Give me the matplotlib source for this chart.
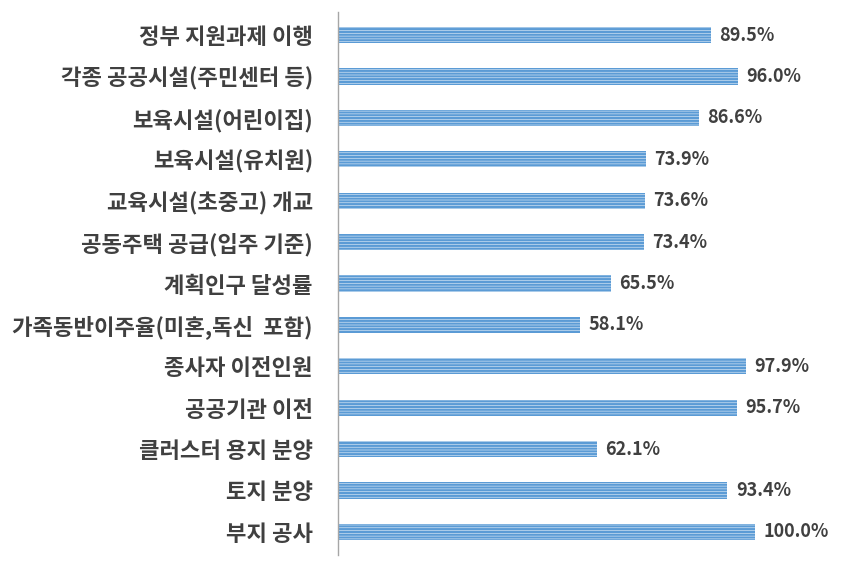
import matplotlib
matplotlib.use("Agg")
import matplotlib.pyplot as plt

plt.rcParams['font.family'] = ['Noto Sans CJK KR', 'DejaVu Sans']
plt.rcParams['hatch.linewidth'] = 1.6
plt.rcParams['hatch.color'] = '#5B9BD5'

categories = [
    "정부 지원과제 이행",
    "각종 공공시설(주민센터 등)",
    "보육시설(어린이집)",
    "보육시설(유치원)",
    "교육시설(초중고) 개교",
    "공동주택 공급(입주 기준)",
    "계획인구 달성률",
    "가족동반이주율(미혼,독신  포함)",
    "종사자 이전인원",
    "공공기관 이전",
    "클러스터 용지 분양",
    "토지 분양",
    "부지 공사",
]
values = [89.5, 96.0, 86.6, 73.9, 73.6, 73.4, 65.5, 58.1, 97.9, 95.7, 62.1, 93.4, 100.0]

fig = plt.figure(figsize=(8.54, 5.68), dpi=100)
ax = fig.add_axes([338/854, 1-555/568, 417/854, (555-12)/568])

pos = list(range(len(categories)))
bars = ax.barh(pos, values, height=0.39, color='#EAF2FA', edgecolor='#5B9BD5',
               hatch='------', linewidth=0)

for p, v in zip(pos, values):
    ax.text(v + 2.0, p, f"{v:.1f}%", va='center', ha='left', fontsize=13,
            fontweight='bold', color='#404040')

ax.set_xlim(0, 100)
ax.set_ylim(12.56, -0.56)
ax.set_yticks(pos)
ax.set_yticklabels(categories, fontsize=16, fontweight='bold', color='#404040')
ax.tick_params(axis='y', length=0, pad=18)
ax.set_xticks([])
for s in ['top', 'right', 'bottom']:
    ax.spines[s].set_visible(False)
ax.spines['left'].set_color('#A6A6A6')
ax.spines['left'].set_linewidth(1.0)

fig.savefig("out.png", dpi=100)
